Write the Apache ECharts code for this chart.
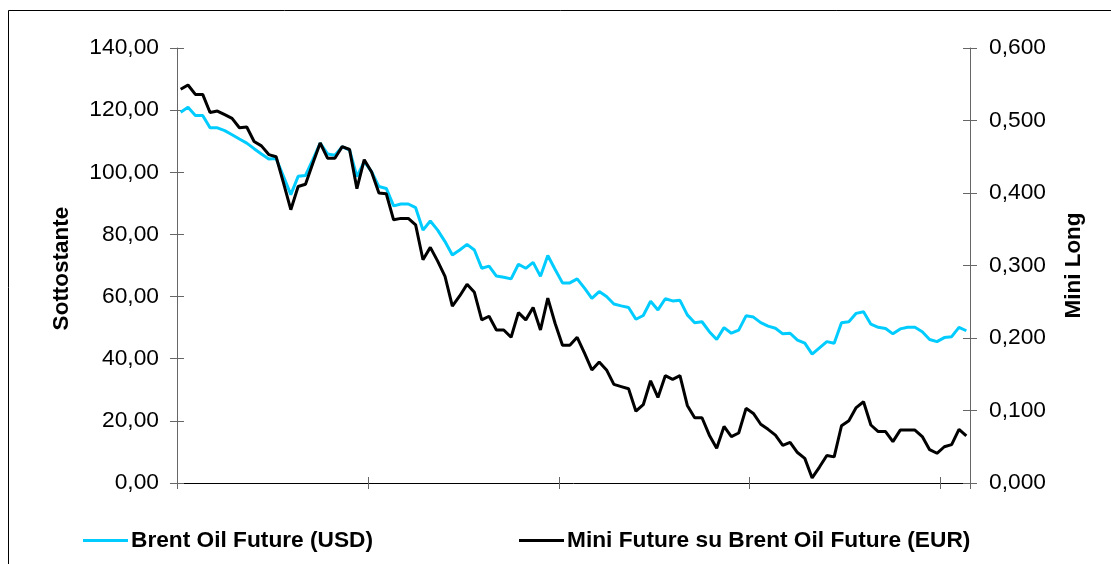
<!DOCTYPE html>
<html>
<head>
<meta charset="utf-8">
<script src="https://cdn.jsdelivr.net/npm/echarts@6/dist/echarts.min.js"></script>
<style>
  html, body { margin: 0; padding: 0; background: #fff; }
  #chart { width: 1111px; height: 564px; }
</style>
</head>
<body>
<div id="chart"></div>
<script>
// Sottostante, USD
const brentUsd = [
  119.3, 120.9, 118.3, 118.3, 114.3, 114.3, 113.4, 112.1, 110.7, 109.4,
  107.6, 105.9, 104.3, 104.4, 98.7, 92.8, 98.7, 99.0, 104.1, 109.4,
  105.9, 105.5, 108.2, 107.2, 98.6, 103.4, 100.2, 95.4, 94.8, 89.2,
  89.8, 89.8, 88.6, 81.4, 84.3, 81.4, 77.7, 73.4, 75.0, 76.8,
  75.0, 69.1, 69.8, 66.6, 66.2, 65.7, 70.4, 69.1, 71.0, 66.5,
  73.2, 68.7, 64.4, 64.4, 65.7, 62.7, 59.4, 61.6, 60.0, 57.6,
  57.0, 56.5, 52.7, 53.9, 58.5, 55.7, 59.3, 58.6, 58.8, 54.1,
  51.6, 51.9, 48.7, 46.2, 50.0, 48.2, 49.2, 53.8, 53.4, 51.6,
  50.5, 49.8, 48.0, 48.2, 46.0, 45.0, 41.5, 43.5, 45.5, 45.0,
  51.6, 51.9, 54.6, 55.1, 51.1, 50.1, 49.7, 48.0, 49.6, 50.1,
  50.1, 48.7, 46.2, 45.5, 46.8, 47.1, 50.1, 49.0
]

// Mini Long, EUR
const miniEur = [
  0.543, 0.549, 0.536, 0.536, 0.511, 0.513, 0.508, 0.503, 0.490, 0.491,
  0.471, 0.465, 0.453, 0.450, 0.414, 0.377, 0.409, 0.412, 0.441, 0.469,
  0.448, 0.448, 0.464, 0.460, 0.406, 0.446, 0.429, 0.400, 0.399, 0.363,
  0.365, 0.365, 0.356, 0.308, 0.325, 0.306, 0.285, 0.244, 0.258, 0.274,
  0.263, 0.225, 0.230, 0.211, 0.211, 0.201, 0.235, 0.225, 0.242, 0.211,
  0.255, 0.220, 0.190, 0.190, 0.201, 0.179, 0.156, 0.167, 0.156, 0.136,
  0.133, 0.130, 0.099, 0.108, 0.141, 0.118, 0.148, 0.143, 0.148, 0.107,
  0.090, 0.090, 0.066, 0.048, 0.078, 0.064, 0.069, 0.103, 0.096, 0.081,
  0.074, 0.066, 0.052, 0.056, 0.042, 0.034, 0.007, 0.022, 0.038, 0.036,
  0.079, 0.086, 0.104, 0.112, 0.080, 0.071, 0.071, 0.057, 0.073, 0.073,
  0.073, 0.064, 0.046, 0.041, 0.050, 0.053, 0.074, 0.065
]

// una categoria per ogni osservazione (etichette non mostrate)
const categories = brentUsd.map((v, i) => String(i + 1))

const leftTicks = [0, 20, 40, 60, 80, 100, 120, 140]
const rightTicks = [0, 0.1, 0.2, 0.3, 0.4, 0.5, 0.6]

const seriesNames = ['Brent Oil Future (USD)', 'Mini Future su Brent Oil Future (EUR)']

const font = 'Liberation Sans, Arial, sans-serif'
const axisGrey = '#666'

const chart = echarts.init(document.getElementById('chart'))

// asse y "fantasma" per avere le tacche a croce (dentro + fuori)
const innerY = (pos, ticks) => ({
  type: 'value',
  position: pos,
  min: ticks[0],
  max: ticks[ticks.length - 1],
  interval: ticks[1] - ticks[0],
  axisLine: { show: false },
  axisLabel: { show: false },
  splitLine: { show: false },
  axisTick: { show: true, inside: true, length: 7, lineStyle: { color: axisGrey } }
})

const option = {
  animation: false,
  backgroundColor: '#fff',
  graphic: [{
    type: 'rect',
    silent: true,
    shape: { x: 8.5, y: 10.5, width: 1300, height: 700 },
    style: { fill: 'none', stroke: '#000', lineWidth: 1 }
  }],
  grid: { left: 177, right: 141, top: 48, bottom: 81, containLabel: false },
  legend: {
    left: 78,
    top: 524,
    icon: 'rect',
    itemWidth: 45,
    itemHeight: 3,
    itemGap: 146,
    textStyle: {
      fontFamily: font,
      fontSize: 22.7,
      fontWeight: 'bold',
      color: '#000',
      padding: [0, 0, 0, -2]
    },
    data: seriesNames
  },
  xAxis: [
    {
      type: 'category',
      data: categories,
      boundaryGap: true,
      axisLine: { lineStyle: { color: '#000', width: 1 } },
      axisTick: { show: true, interval: 25, length: 6, lineStyle: { color: axisGrey } },
      axisLabel: { show: false },
      splitLine: { show: false }
    },
    {
      type: 'category',
      data: categories,
      boundaryGap: true,
      position: 'bottom',
      axisLine: { show: false },
      axisTick: { show: true, interval: 25, inside: true, length: 6, lineStyle: { color: axisGrey } },
      axisLabel: { show: false },
      splitLine: { show: false }
    }
  ],
  yAxis: [
    {
      type: 'value',
      position: 'left',
      min: leftTicks[0],
      max: leftTicks[leftTicks.length - 1],
      interval: leftTicks[1] - leftTicks[0],
      name: 'Sottostante',
      nameLocation: 'middle',
      nameRotate: 90,
      nameGap: 104,
      nameTextStyle: { fontFamily: font, fontSize: 22.5, fontWeight: 'bold', color: '#000', padding: [0, 6, 0, 0] },
      axisLine: { show: true, lineStyle: { color: axisGrey } },
      axisTick: { show: true, length: 7, lineStyle: { color: axisGrey } },
      axisLabel: {
        margin: 18,
        fontFamily: font,
        fontSize: 22.8,
        color: '#000',
        formatter: v => v.toFixed(2).replace('.', ',')
      },
      splitLine: { show: false }
    },
    {
      type: 'value',
      position: 'right',
      min: rightTicks[0],
      max: rightTicks[rightTicks.length - 1],
      interval: rightTicks[1] - rightTicks[0],
      name: 'Mini Long',
      nameLocation: 'middle',
      nameRotate: 90,
      nameGap: 92,
      nameTextStyle: { fontFamily: font, fontSize: 22.5, fontWeight: 'bold', color: '#000' },
      axisLine: { show: true, lineStyle: { color: axisGrey } },
      axisTick: { show: true, length: 7, lineStyle: { color: axisGrey } },
      axisLabel: {
        margin: 19,
        fontFamily: font,
        fontSize: 22.8,
        color: '#000',
        formatter: v => v.toFixed(3).replace('.', ',')
      },
      splitLine: { show: false }
    },
    innerY('left', leftTicks),
    innerY('right', rightTicks)
  ],
  series: [
    {
      name: seriesNames[0],
      type: 'line',
      data: brentUsd,
      xAxisIndex: 0,
      yAxisIndex: 0,
      symbol: 'none',
      color: '#00CCFF',
      lineStyle: { color: '#00CCFF', width: 3 }
    },
    {
      name: seriesNames[1],
      type: 'line',
      data: miniEur,
      xAxisIndex: 0,
      yAxisIndex: 1,
      symbol: 'none',
      color: '#000',
      lineStyle: { color: '#000', width: 3 }
    }
  ]
}

chart.setOption(option)
</script>
</body>
</html>
